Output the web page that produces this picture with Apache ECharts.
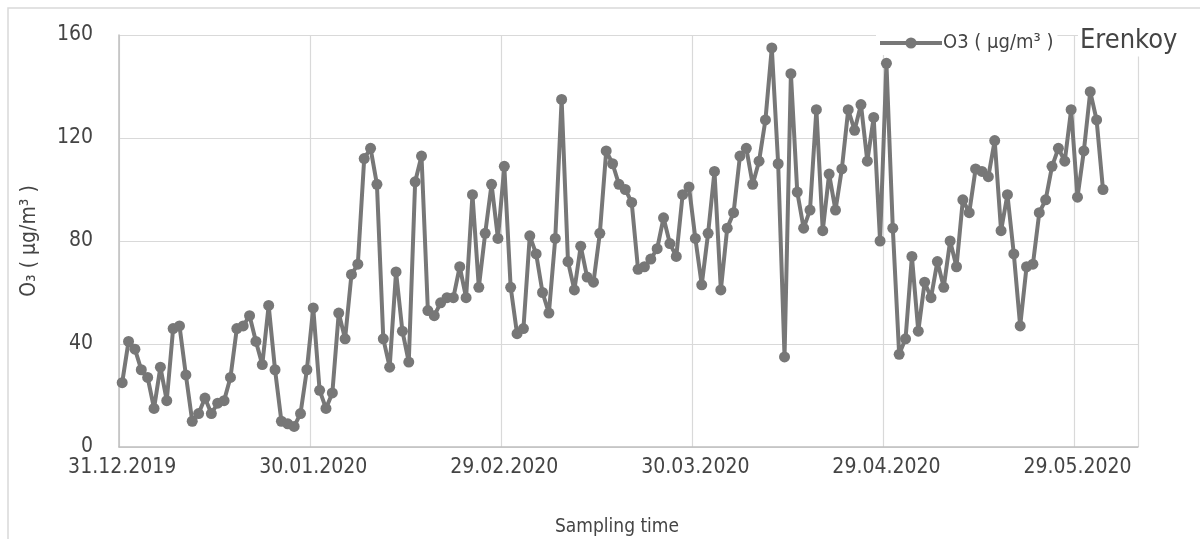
<!DOCTYPE html>
<html>
<head>
<meta charset="utf-8">
<script src="https://cdn.jsdelivr.net/npm/echarts@6/dist/echarts.min.js"></script>
<style>
  html, body { margin: 0; padding: 0; background: #fff; }
  #chart { width: 1200px; height: 539px; }
</style>
</head>
<body>
<div id="chart"></div>
<script>
// daily O3 values, starting 31.12.2019
var startDay = [2019, 11, 31];
var axisDays = 160;
var o3Values = [
  25, 41, 38, 30, 27, 15, 31, 18, 46, 47,
  28, 10, 13, 19, 13, 17, 18, 27, 46, 47,
  51, 41, 32, 55, 30, 10, 9, 8, 13, 30,
  54, 22, 15, 21, 52, 42, 67, 71, 112, 116,
  102, 42, 31, 68, 45, 33, 103, 113, 53, 51,
  56, 58, 58, 70, 58, 98, 62, 83, 102, 81,
  109, 62, 44, 46, 82, 75, 60, 52, 81, 135,
  72, 61, 78, 66, 64, 83, 115, 110, 102, 100,
  95, 69, 70, 73, 77, 89, 79, 74, 98, 101,
  81, 63, 83, 107, 61, 85, 91, 113, 116, 102,
  111, 127, 155, 110, 35, 145, 99, 85, 92, 131,
  84, 106, 92, 108, 131, 123, 133, 111, 128, 80,
  149, 85, 36, 42, 74, 45, 64, 58, 72, 62,
  80, 70, 96, 91, 108, 107, 105, 119, 84, 98,
  75, 47, 70, 71, 91, 96, 109, 116, 111, 131,
  97, 115, 138, 127, 100
];
var yTicks = { min: 0, max: 160, step: 40 };

function pad(n) { return (n < 10 ? '0' : '') + n; }
var dayLabels = [];
for (var i = 0; i < axisDays; i++) {
  var d = new Date(startDay[0], startDay[1], startDay[2] + i);
  dayLabels.push(pad(d.getDate()) + '.' + pad(d.getMonth() + 1) + '.' + d.getFullYear());
}

var font = "'DejaVu Sans Condensed', 'Liberation Sans Narrow', 'DejaVu Sans', sans-serif";
var textColor = '#444444';
var lineColor = '#777777';

var chart = echarts.init(document.getElementById('chart'));
chart.setOption({
  animation: false,
  backgroundColor: '#ffffff',
  grid: { left: 119, right: 62, top: 35, bottom: 92 },
  legend: {
    left: 876, top: 31,
    padding: [2, 4, 2, 2],
    backgroundColor: '#ffffff',
    itemWidth: 62, itemHeight: 14, itemGap: 4,
    lineStyle: { width: 4 },
    textStyle: { fontFamily: font, fontSize: 20, color: textColor, padding: [0, 0, 0, -4] },
    data: [{ name: 'O3 ( µg/m³ )' }]
  },
  xAxis: {
    type: 'category',
    boundaryGap: true,
    data: dayLabels,
    axisLine: { lineStyle: { color: '#bfbfbf', width: 1.5 } },
    axisTick: { show: false },
    axisLabel: { interval: 29, margin: 10, fontFamily: font, fontSize: 21, color: textColor },
    splitLine: { show: true, interval: 29, lineStyle: { color: '#d9d9d9', width: 1.2 } }
  },
  yAxis: {
    type: 'value',
    min: yTicks.min, max: yTicks.max, interval: yTicks.step,
    axisLine: { show: true, lineStyle: { color: '#bfbfbf', width: 1.5 } },
    axisTick: { show: false },
    axisLabel: { margin: 26, fontFamily: font, fontSize: 21, color: textColor },
    splitLine: { lineStyle: { color: '#d9d9d9', width: 1.2 } }
  },
  series: [{
    name: 'O3 ( µg/m³ )',
    type: 'line',
    data: o3Values,
    symbol: 'circle',
    symbolSize: 11,
    showSymbol: true,
    showAllSymbol: true,
    itemStyle: { color: lineColor },
    lineStyle: { color: lineColor, width: 4 }
  }],
  graphic: [
    { type: 'rect', silent: true, shape: { x: 8, y: 8, width: 1300, height: 600 },
      style: { fill: 'none', stroke: '#d9d9d9', lineWidth: 1.5 } },
    { type: 'text', x: 1078, y: 41, z: 100,
      style: { text: 'Erenkoy', fontFamily: font, fontSize: 27, fill: textColor,
               backgroundColor: '#ffffff', padding: [2, 4, 2, 2],
               textAlign: 'left', textVerticalAlign: 'middle' } },
    { type: 'text', x: 617, y: 527,
      style: { text: 'Sampling time', fontFamily: font, fontSize: 19, fill: textColor,
               textAlign: 'center', textVerticalAlign: 'middle' } },
    { type: 'text', x: 30, y: 241, rotation: Math.PI / 2,
      style: { text: 'O₃ ( µg/m³ )', fontFamily: font, fontSize: 21, fill: textColor,
               textAlign: 'center', textVerticalAlign: 'middle' } }
  ]
});
</script>
</body>
</html>
